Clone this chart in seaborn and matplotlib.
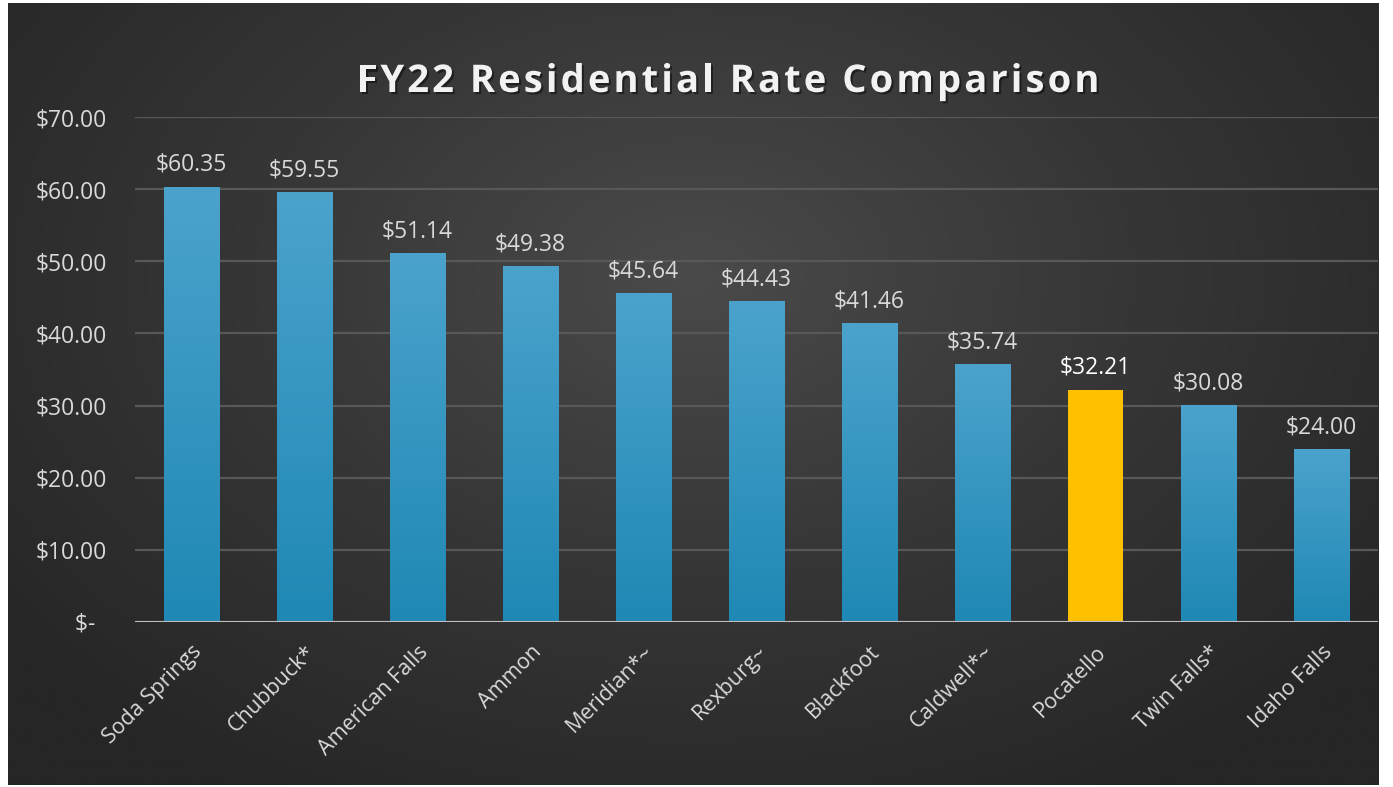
import numpy as np
import pandas as pd
import seaborn as sns
import matplotlib.pyplot as plt
import matplotlib.patheffects as pe
from matplotlib.colors import LinearSegmentedColormap

cities = ['Soda Springs', 'Chubbuck*', 'American Falls', 'Ammon', 'Meridian*~',
          'Rexburg~', 'Blackfoot', 'Caldwell*~', 'Pocatello', 'Twin Falls*', 'Idaho Falls']
rates = [60.35, 59.55, 51.14, 49.38, 45.64, 44.43, 41.46, 35.74, 32.21, 30.08, 24.00]
highlight = 'Pocatello'
yticks = [0, 10, 20, 30, 40, 50, 60, 70]
ytick_labels = ['$-  ', '$10.00', '$20.00', '$30.00', '$40.00', '$50.00', '$60.00', '$70.00']
title = 'FY22 Residential Rate Comparison'

df = pd.DataFrame({'city': cities, 'rate': rates})
df['group'] = np.where(df['city'] == highlight, 'hl', 'base')
hl_idx = cities.index(highlight)

sns.set_style('white')
plt.rcParams['font.family'] = ['Open Sans', 'DejaVu Sans']
txt = '#d9d9d9'

fig = plt.figure(figsize=(13.93, 7.87), dpi=100, facecolor='white')

# dark radial gradient background
bg = fig.add_axes([8/1393, 2/787, 1371/1393, 782/787], zorder=-5)
yy, xx = np.mgrid[0:1:300j, 0:1:500j]
r = np.sqrt(((xx - 0.5) / 0.75) ** 2 + ((yy - 0.35) / 0.9) ** 2)
bg_cmap = LinearSegmentedColormap.from_list('bg', ['#4a4a4a', '#363636', '#262626'])
bg.imshow(r, cmap=bg_cmap, aspect='auto', extent=[0, 1, 0, 1], vmin=0, vmax=0.85)
bg.set_axis_off()

ax = fig.add_axes([135/1393, 165/787, 1243/1393, 505/787])
ax.set_facecolor('none')
sns.barplot(data=df, x='city', y='rate', hue='group',
            palette={'base': '#2f93c2', 'hl': '#ffc000'},
            width=0.49, legend=False, dodge=False, ax=ax, zorder=3, linewidth=0)

# vertical gradient on the blue bars
blue_grad = LinearSegmentedColormap.from_list('bl', ['#1f88b4', '#4ba3cc'])
grad = np.linspace(0, 1, 256).reshape(-1, 1)
for p in ax.patches:
    if p.get_height() <= 0:
        continue
    x0, y0 = p.get_x(), p.get_y()
    if abs(x0 + p.get_width() / 2 - hl_idx) < 0.3:  # gold bar stays flat
        p.set_facecolor('#ffc000')
        continue
    im = ax.imshow(grad, cmap=blue_grad, origin='lower', aspect='auto',
                   extent=[x0, x0 + p.get_width(), y0, y0 + p.get_height()], zorder=3)
    im.set_clip_path(p)

ax.set_xlim(-0.5, len(cities) - 0.5)
ax.set_ylim(0, 70)

for i, v in enumerate(rates):
    ax.annotate(f'${v:.2f}', (i, v), xytext=(0, 7), textcoords='offset points',
                ha='center', va='bottom', fontsize=16.5,
                color='white' if cities[i] == highlight else txt)

ax.set_yticks(yticks)
ax.set_yticklabels(ytick_labels, fontsize=16.5, color=txt)
ax.set_xticks(range(len(cities)))
ax.set_xticklabels(cities, rotation=45, ha='right', rotation_mode='anchor',
                   fontsize=15.5, color=txt)
ax.tick_params(axis='both', length=0)
ax.tick_params(axis='y', pad=20)
ax.tick_params(axis='x', pad=14)
ax.set_xlabel('')
ax.set_ylabel('')
ax.grid(axis='y', color='#585858', linewidth=1.6, zorder=0)
ax.axhline(0, color='#bfbfbf', linewidth=2.2, zorder=4)
for s in ax.spines.values():
    s.set_visible(False)

# title with letter spacing, laid out glyph by glyph
renderer = fig.canvas.get_renderer()
tkw = dict(fontsize=27.5, fontweight='bold', color='#f2f2f2', va='center', ha='left')
def text_w(s):
    t = fig.text(0, 0, s, **tkw)
    w = t.get_window_extent(renderer).width
    t.remove()
    return w
full_w = text_w(title)
target_w = 743
track = (target_w - full_w) / (len(title) - 1)
x_start = 728 - target_w / 2
shadow = [pe.SimplePatchShadow(offset=(1.5, -1.5), shadow_rgbFace='black', alpha=0.45), pe.Normal()]
for i, ch in enumerate(title):
    if ch == ' ':
        continue
    off = text_w(title[:i] + '|') - text_w('|') if i else 0
    fig.text((x_start + off + i * track) / 1393, 1 - 82/787, ch,
             path_effects=shadow, **tkw)

fig.savefig('out.png', dpi=100, facecolor='white')
